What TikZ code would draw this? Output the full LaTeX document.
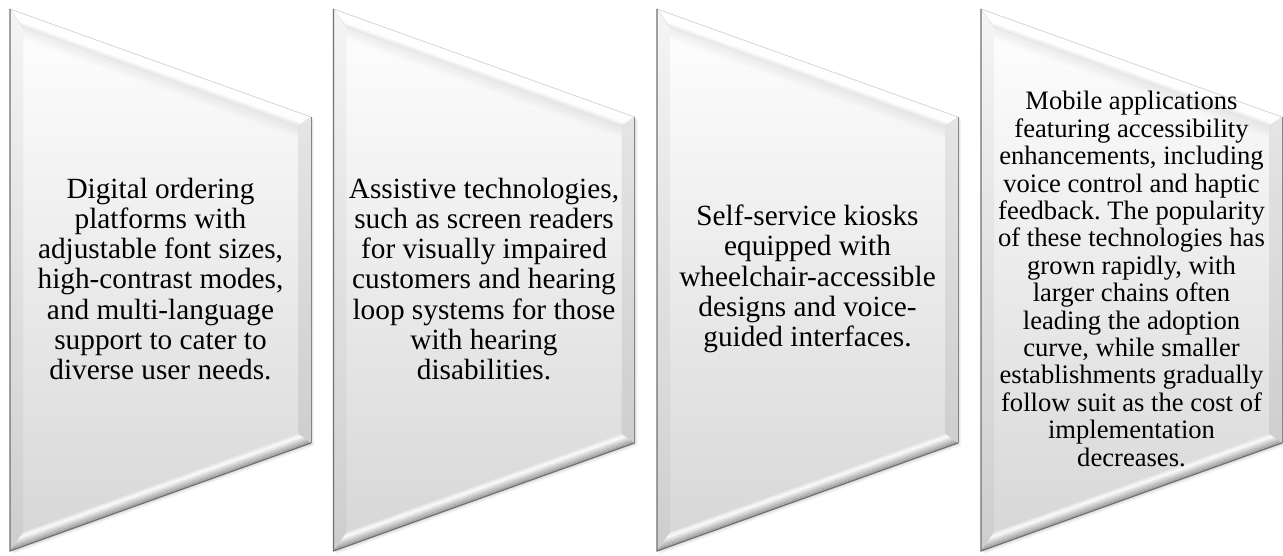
\documentclass[tikz,border=0pt]{standalone}
\usepackage{fontspec}
\setmainfont{Liberation Serif}
\frenchspacing
\begin{document}
\begin{tikzpicture}[x=1pt,y=1pt,
  outerpath/.style={insert path={(0,546) -- (301,438) -- (301,112) -- (0,4) -- cycle}},
  caption/.style={align=center, text=black, inner sep=0pt},
  big/.style={font=\fontsize{29.3}{30.3}\selectfont},
  small/.style={font=\fontsize{26.6}{27.4}\selectfont}]
\useasboundingbox (0,0) rectangle (1283,555);
% four bevelled slanted panels
\foreach \px in {10,333.5,657,981}{
 \begin{scope}[xshift=\px pt]
  % soft drop shadow
  \foreach \s/\o in {3/0.04,2/0.05,1/0.06}{
    \fill[black,opacity=\o,shift={(\s,-\s)}][outerpath];
  }
  % main face: light at the top, grey towards the bottom
  \path[top color=white,bottom color=black!16][outerpath];
  % top bevel face
  \foreach \i in {0,...,9}{
    \pgfmathsetmacro\ta{\i/10}
    \pgfmathsetmacro\tb{(\i+1)/10}
    \pgfmathsetmacro\k{\ta<0.6 ? 0 : 12*(\ta-0.6)/0.4}
    \fill[black!\k] ({13*\ta},{546-18.5*\ta}) -- ({301-13*\ta},{438-9.1*\ta})
      -- ({301-13*\tb},{438-9.1*\tb}) -- ({13*\tb},{546-18.5*\tb}) -- cycle;
  }
  % soft shadow under the top bevel
  \foreach \i in {0,...,7}{
    \pgfmathsetmacro\o{0.06*(1-\i/8)}
    \fill[black,opacity=\o] (13,{527.5-1.5*\i}) -- (288,{428.9-1.5*\i})
      -- (288,{428.9-1.5*(\i+1)}) -- (13,{527.5-1.5*(\i+1)}) -- cycle;
  }
  % left bevel face
  \fill[black,opacity=0.04] (0,546) -- (13,527.5) -- (13,22.5) -- (0,4) -- cycle;
  % right bevel face
  \fill[black,opacity=0.07] (301,438) -- (288,428.9) -- (288,121.2) -- (301,112) -- cycle;
  % bottom bevel face: grey rim rising to a white highlight
  \foreach \i in {0,...,11}{
    \pgfmathsetmacro\ta{\i/12}
    \pgfmathsetmacro\tb{(\i+1)/12}
    \pgfmathsetmacro\k{\ta<0.7 ? 40*(1-\ta/0.7) : 12*(\ta-0.7)/0.3}
    \fill[black!\k] ({13*\ta},{4+18.5*\ta}) -- ({301-13*\ta},{112+9.2*\ta})
      -- ({301-13*\tb},{112+9.2*\tb}) -- ({13*\tb},{4+18.5*\tb}) -- cycle;
  }
  % corner seams
  \draw[black!12,line width=0.5pt] (0,546) -- (13,527.5) (301,438) -- (288,428.9);
  % outer rim
  \draw[black!20,line width=0.6pt] (0,546) -- (301,438);
  \draw[black!48,line width=1pt] (301,438) -- (301,112);
  \draw[black!56,line width=1.1pt] (301,112) -- (0,4) -- (0,546);
 \end{scope}
}
\node[caption,big] (t1) at (160.5,276) {Digital ordering\\platforms with\\adjustable font sizes,\\high-contrast modes,\\and multi-language\\support to cater to\\diverse user needs.};
\node[caption,big] (t2) at (484,276) {Assistive technologies,\\such as screen readers\\for visually impaired\\customers and hearing\\loop systems for those\\with hearing\\disabilities.};
\node[caption,big] (t3) at (807.5,276) {Self-service kiosks\\equipped with\\wheelchair-accessible\\designs and voice-\\guided interfaces.};
\node[caption,small] (t4) at (1131.5,276) {Mobile applications\\featuring accessibility\\enhancements, including\\voice control and haptic\\feedback. The popularity\\of these technologies has\\grown rapidly, with\\larger chains often\\leading the adoption\\curve, while smaller\\establishments gradually\\follow suit as the cost of\\implementation\\decreases.};
\end{tikzpicture}
\end{document}
